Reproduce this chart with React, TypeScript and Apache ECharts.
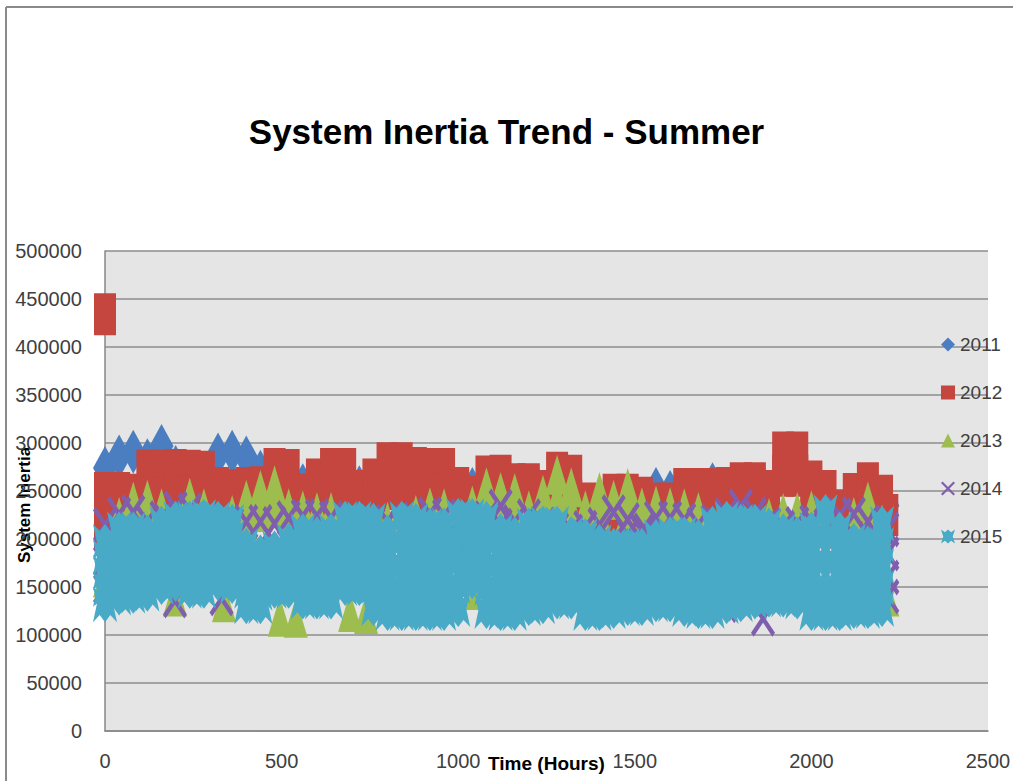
import React, { useEffect, useRef } from "react";
import * as echarts from "echarts";

const FONT = "'Liberation Sans', Arial, sans-serif";

const seriesNames = ["2011", "2012", "2013", "2014", "2015"];
const colors = ["#4A7EC0", "#C4463F", "#9DBE4E", "#7F5FAD", "#48AAC6"];

const hours = [
  0, 40, 80, 120, 160, 200, 240, 280, 320, 360,
  400, 440, 480, 520, 560, 600, 640, 680, 720, 760,
  800, 840, 880, 920, 960, 1000, 1040, 1080, 1120, 1160,
  1200, 1240, 1280, 1320, 1360, 1400, 1440, 1480, 1520, 1560,
  1600, 1640, 1680, 1720, 1760, 1800, 1840, 1880, 1920, 1960,
  2000, 2040, 2080, 2120, 2160, 2200, 2215,
];

const y2011 = [
  274000, 286000, 291000, 282000, 297000, 275000, null, null, 288000, 291000,
  285000, 270000, null, null, 256000, null, null, null, 254000, null,
  null, null, null, null, null, null, 252000, null, null, null,
  null, null, null, null, null, null, null, null, null, 252000,
  249000, null, null, 257000, null, null, null, null, null, null,
  null, null, null, null, null, null, 235000,
];

const y2012Top = [
  248000, 248000, 246000, 271000, 271000, 272000, 271000, 270000, 253000, 251000,
  253000, 254000, 273000, 272000, 246000, 262000, 273000, 273000, 250000, 262000,
  279000, 279000, 274000, 273000, 273000, 253000, 244000, 265000, 266000, 257000,
  257000, 250000, 269000, 266000, 237000, 236000, 246000, 246000, 243000, 237000,
  237000, 252000, 252000, 252000, 253000, 258000, 258000, 250000, 290000, 290000,
  260000, 250000, 230000, 247000, 258000, 245000, 225000,
];
const y2012Low = [
  228000, 225000, 222000, 243000, 242000, 244000, 243000, 242000, 228000, 226000,
  230000, 232000, 247000, 246000, 224000, 236000, 246000, 244000, 226000, 238000,
  252000, 252000, 246000, 246000, 246000, 228000, 224000, 240000, 240000, 232000,
  232000, 228000, 244000, 240000, 218000, 216000, 224000, 224000, 222000, 218000,
  218000, 228000, 228000, 228000, 230000, 234000, 234000, 228000, 266000, 266000,
  236000, 228000, 212000, 226000, 234000, 224000, null,
];
const extra2012 = [[0, 434000], [0, 212000]];

const y2013Top = [
  null, 223000, 239000, 241000, 232000, null, 243000, 232000, null, 225000,
  241000, 251000, 256000, 232000, 230000, 228000, 228000, null, null, null,
  218000, null, 225000, 233000, 232000, 222000, 235000, 254000, 249000, 248000,
  230000, 246000, 267000, 254000, 230000, 249000, 241000, 253000, 233000, 235000,
  233000, 232000, 228000, null, null, null, null, 222000, 227000, 228000,
  230000, null, null, 223000, 239000, 215000, 140000,
];
const y2013Low = [
  null, null, 218000, 218000, null, null, 220000, null, null, null,
  218000, 228000, 232000, null, null, null, null, null, null, null,
  null, null, null, null, null, null, null, 230000, 226000, 225000,
  null, 222000, 242000, 230000, null, 225000, null, 228000, null, null,
  null, null, null, null, null, null, null, null, null, null,
  null, null, null, null, 215000, null, null,
];
const extra2013 = [
  [0, 160000], [198, 140000], [337, 134000], [495, 119000], [540, 118000],
  [694, 124000], [739, 122000], [1047, 147000],
];

const y2014 = [
  215000, 226000, 228000, 218000, 222000, 232000, 230000, 215000, 215000, 215000,
  218000, 218000, 216000, 222000, 224000, 224000, 222000, 215000, 215000, 215000,
  218000, 212000, 220000, 226000, 224000, 194000, 215000, 222000, 234000, 218000,
  224000, 215000, 210000, 208000, 212000, 215000, 228000, 220000, 208000, 222000,
  222000, 220000, 215000, 218000, 225000, 234000, 226000, 215000, 212000, 216000,
  218000, 214000, 225000, 226000, 218000, 212000, 210000,
];
const extra2014 = [
  [0, 175000], [0, 150000], [198, 136000], [330, 138000], [1120, 214000],
  [1128, 194000], [1480, 204000], [1500, 191000], [1530, 209000], [1800, 206000],
  [1755, 131000], [1863, 117000], [2215, 185000], [2215, 160000], [2215, 140000],
];

const y2015Top = [
  197000, 210000, 210000, 207000, 216000, 221000, 221000, 223000, 221000, 218000,
  193000, 186000, 190000, 198000, 208000, 205000, 208000, 221000, 221000, 219000,
  207000, 221000, 219000, 214000, 214000, 224000, 224000, 221000, 208000, 205000,
  214000, 216000, 216000, 205000, 203000, 197000, 193000, 193000, 193000, 202000,
  205000, 205000, 202000, 216000, 221000, 218000, 218000, 214000, 208000, 205000,
  210000, 228000, 210000, 198000, 195000, 216000, null,
];
const y2015Upper = [
  181000, 192000, 193000, 191000, 200000, 204000, 202000, 204000, 204000, 201000,
  177000, 172000, 179000, 185000, 190000, 188000, 190000, 203000, 203000, 196000,
  186000, 197000, 195000, 191000, 191000, 200000, 207000, 197000, 187000, 185000,
  193000, 195000, 196000, 188000, 183000, 179000, 176000, 177000, 177000, 185000,
  187000, 186000, 183000, 193000, 198000, 197000, 197000, 195000, 190000, 188000,
  188000, 202000, 188000, 180000, 178000, 194000, null,
];
const y2015Mid = [
  165000, 175000, 176000, 175000, 183000, 187000, 184000, 185000, 188000, 185000,
  162000, 158000, 168000, 172000, 172000, 170000, 172000, 185000, 185000, 174000,
  165000, 172000, 171000, 169000, 169000, 176000, 190000, 173000, 166000, 164000,
  171000, 173000, 176000, 170000, 163000, 160000, 159000, 161000, 161000, 167000,
  169000, 166000, 164000, 171000, 176000, 175000, 177000, 176000, 173000, 170000,
  167000, 176000, 167000, 162000, 160000, 172000, null,
];
const y2015Lower = [
  148000, 157000, 158000, 159000, 166000, 170000, 165000, 165000, 171000, 168000,
  146000, 144000, 157000, 159000, 153000, 152000, 153000, 167000, 167000, 151000,
  144000, 147000, 147000, 146000, 146000, 151000, 173000, 149000, 144000, 144000,
  150000, 152000, 155000, 153000, 143000, 142000, 142000, 144000, 144000, 150000,
  150000, 147000, 144000, 148000, 153000, 154000, 156000, 156000, 155000, 153000,
  145000, 149000, 145000, 143000, 143000, 149000, null,
];
const y2015Bottom = [
  132000, 139000, 141000, 143000, 150000, 153000, 146000, 146000, 154000, 151000,
  130000, 130000, 146000, 146000, 135000, 135000, 135000, 149000, 149000, 128000,
  123000, 123000, 123000, 123000, 123000, 127000, 156000, 125000, 123000, 123000,
  128000, 130000, 135000, 135000, 123000, 123000, 125000, 128000, 128000, 132000,
  132000, 127000, 125000, 125000, 130000, 132000, 135000, 137000, 137000, 135000,
  123000, 123000, 123000, 125000, 125000, 127000, null,
];

const xTicks = { min: 0, max: 2500, interval: 500 };
const yTicks = { min: 0, max: 500000, interval: 50000 };

// asterisk-like marker: spikes at the edges, a solid core
const ASTERISK =
  "path://M50 0 L72 20 L100 0 L84 50 L100 100 L72 80 L50 100 L28 80 L0 100 L16 50 L0 0 L28 20 Z";
const CROSS = "path://M0 11 L11 0 L100 89 L89 100 Z M89 0 L100 11 L11 100 L0 89 Z";

function toPairs(vals: (number | null)[]): number[][] {
  const out: number[][] = [];
  vals.forEach((v, i) => {
    if (v !== null && v !== undefined) out.push([hours[i], v]);
  });
  return out;
}

export default function App() {
  const ref = useRef<HTMLDivElement>(null);

  useEffect(() => {
    if (!ref.current) return;
    const chart = echarts.init(ref.current, null, { renderer: "svg" });

    const mk = (i: number, symbol: string, size: number[], data: number[][]) => ({
      name: seriesNames[i],
      type: "scatter",
      symbol,
      symbolSize: size,
      itemStyle: { color: colors[i], opacity: 1 },
      silent: true,
      data,
    });

    chart.setOption({
      animation: false,
      backgroundColor: "#FFFFFF",
      title: {
        text: "System Inertia Trend - Summer",
        left: "center",
        top: 109,
        textStyle: { fontFamily: FONT, fontSize: 35, fontWeight: "bold", color: "#000000" },
      },
      legend: {
        data: seriesNames,
        orient: "vertical",
        left: 936,
        top: 330,
        itemGap: 29,
        itemWidth: 14,
        itemHeight: 14,
        textStyle: { fontFamily: FONT, fontSize: 19, color: "#404040" },
      },
      grid: {
        left: 105,
        right: 25,
        top: 251,
        bottom: 50,
        show: true,
        backgroundColor: "#E5E5E5",
        borderWidth: 0,
        outerBoundsMode: "none",
        containLabel: false,
      },
      xAxis: {
        type: "value",
        ...xTicks,
        axisLine: { show: true, lineStyle: { color: "#868686", width: 1.5 } },
        axisTick: { show: false },
        splitLine: { show: false },
        axisLabel: {
          fontFamily: FONT,
          fontSize: 20,
          color: "#404040",
          margin: 20,
          formatter: (v: number) => String(v),
        },
        name: "Time (Hours)",
        nameLocation: "middle",
        nameGap: 23,
        nameMoveOverlap: false,
        nameTextStyle: { fontFamily: FONT, fontSize: 19, fontWeight: "bold", color: "#000000" },
      },
      yAxis: {
        type: "value",
        ...yTicks,
        axisLine: { show: true, lineStyle: { color: "#868686", width: 1.5 } },
        axisTick: { show: false },
        splitLine: { show: true, lineStyle: { color: "#8C8C8C", width: 1.5 } },
        axisLabel: {
          fontFamily: FONT,
          fontSize: 20,
          color: "#404040",
          margin: 23,
          formatter: (v: number) => String(v),
        },
        name: "System Inertia",
        nameLocation: "middle",
        nameRotate: 90,
        nameGap: 72,
        nameMoveOverlap: false,
        nameTextStyle: {
          fontFamily: FONT,
          fontSize: 17,
          fontWeight: "bold",
          color: "#000000",
          padding: [0, 28, 0, 0],
        },
      },
      graphic: [
        { type: "line", shape: { x1: 6, y1: 7, x2: 1013, y2: 7 }, style: { stroke: "#8A8A8A", lineWidth: 2 } },
        { type: "line", shape: { x1: 6, y1: 7, x2: 6, y2: 781 }, style: { stroke: "#8A8A8A", lineWidth: 2 } },
      ],
      series: [
        mk(0, "diamond", [24, 44], toPairs(y2011)),
        mk(1, "rect", [22, 42], [...toPairs(y2012Top), ...toPairs(y2012Low), ...extra2012]),
        mk(2, "triangle", [24, 40], [...toPairs(y2013Top), ...toPairs(y2013Low), ...extra2013]),
        mk(3, CROSS, [24, 36], [...toPairs(y2014), ...extra2014]),
        mk(4, ASTERISK, [24, 36], [
          ...toPairs(y2015Top),
          ...toPairs(y2015Upper),
          ...toPairs(y2015Mid),
          ...toPairs(y2015Lower),
          ...toPairs(y2015Bottom),
        ]),
      ],
    });

    return () => chart.dispose();
  }, []);

  return (
    <div
      ref={ref}
      style={{ position: "fixed", left: 0, top: 0, width: 1013, height: 781 }}
    />
  );
}
